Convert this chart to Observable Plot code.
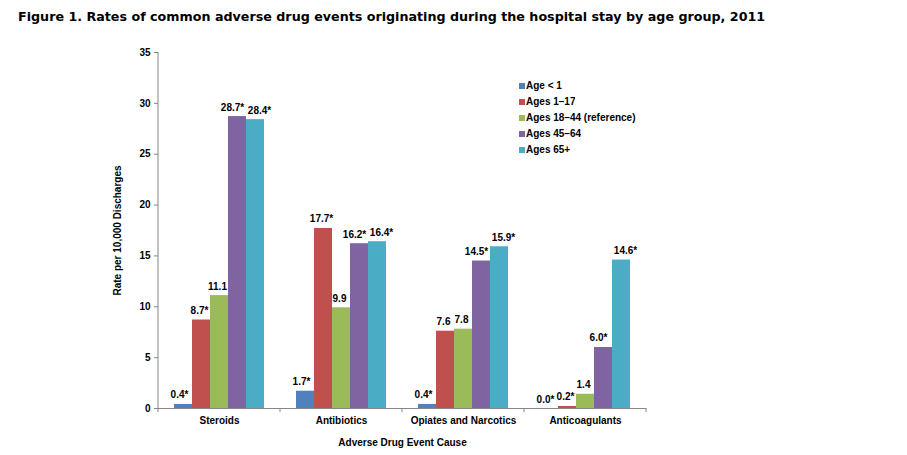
<!DOCTYPE html>
<html><head><meta charset="utf-8">
<script src="https://cdn.jsdelivr.net/npm/d3@7"></script>
<script src="https://cdn.jsdelivr.net/npm/@observablehq/plot@0.6"></script>
<style>
body{margin:0;background:#fff;}
#wrap{position:relative;width:907px;height:455px;overflow:hidden;background:#fff}
#title{position:absolute;left:18px;top:9px;font:bold 12.7px "DejaVu Sans",Verdana,sans-serif;line-height:15px;color:#000;white-space:nowrap}
#chart{position:absolute;left:0;top:32px}
#legend{position:absolute;left:519px;top:78px}
#legend .lg-swatches{font:bold 10px "Liberation Sans",Arial,sans-serif !important;color:#000 !important;margin:0 !important;}
#legend .lg-swatch{height:16px !important;padding:0 !important;margin:0 !important;line-height:16px !important}
#legend .lg-swatch svg{margin-right:1px !important}
</style></head><body>
<div id="wrap">
<div id="title">Figure 1. Rates of common adverse drug events originating during the hospital stay by age group, 2011</div>
<div id="chart"></div>
<div id="legend"></div>
</div>
<script>
// ---- data ----
const causes = ["Steroids", "Antibiotics", "Opiates and Narcotics", "Anticoagulants"];
const ageGroups = ["Age < 1", "Ages 1–17", "Ages 18–44 (reference)", "Ages 45–64", "Ages 65+"];
const ageLt1   = [0.4, 1.7, 0.4, 0.0];
const age1_17  = [8.7, 17.7, 7.6, 0.2];
const age18_44 = [11.1, 9.9, 7.8, 1.4];
const age45_64 = [28.7, 16.2, 14.5, 6.0];
const age65p   = [28.4, 16.4, 15.9, 14.6];
const labelsLt1   = ["0.4*", "1.7*", "0.4*", "0.0*"];
const labels1_17  = ["8.7*", "17.7*", "7.6", "0.2*"];
const labels18_44 = ["11.1", "9.9", "7.8", "1.4"];
const labels45_64 = ["28.7*", "16.2*", "14.5*", "6.0*"];
const labels65p   = ["28.4*", "16.4*", "15.9*", "14.6*"];
const yTicks = [0, 5, 10, 15, 20, 25, 30, 35];
const colors = ["#4F81BD", "#C0504D", "#9BBB59", "#8064A2", "#4BACC6"];
const yLabel = "Rate per 10,000 Discharges";
const xLabel = "Adverse Drug Event Cause";

const seriesValues = [ageLt1, age1_17, age18_44, age45_64, age65p];
const seriesLabels = [labelsLt1, labels1_17, labels18_44, labels45_64, labels65p];
const data = [];
causes.forEach((c, i) => ageGroups.forEach((a, j) => data.push({cause: c, age: a, value: seriesValues[j][i], label: seriesLabels[j][i]})));

const axisColor = "#868686";
const font = "'Liberation Sans', Arial, sans-serif";
// label nudges per series (style only), like the spreadsheet's label placement
const labelDx = [-4, -2, -2, -5, 4];

const plot = Plot.plot({
  width: 907, height: 423,
  marginTop: 20, marginBottom: 47, marginLeft: 156, marginRight: 260,
  style: {fontFamily: font, fontSize: "10px", fontWeight: "bold", color: "#000", background: "#fff", overflow: "visible"},
  fx: {domain: causes, padding: 0},
  x: {domain: ageGroups, paddingInner: 0, paddingOuter: 0.74, axis: null},
  y: {domain: [0, 35]},
  color: {domain: ageGroups, range: colors},
  marks: [
    Plot.axisY(yTicks, {tickSize: 4, tickPadding: 4, stroke: axisColor, fill: "#000", label: yLabel, labelAnchor: "center", labelOffset: 45, labelArrow: "none"}),
    Plot.axisFx({anchor: "bottom", tickSize: 0, tickPadding: 8, fill: "#000", label: xLabel, labelAnchor: "center", labelOffset: 37, labelArrow: "none"}),
    Plot.barY(data, {fx: "cause", x: "age", y: "value", fill: "age"}),
    ...ageGroups.map((a, j) => Plot.text(data.filter(d => d.age === a), {fx: "cause", x: "age", y: "value", text: "label", dy: -6, dx: labelDx[j], lineAnchor: "bottom", fill: "#000", fontSize: 10})),
    Plot.ruleY([0], {stroke: axisColor})
  ]
});
document.getElementById("chart").appendChild(plot);

// y-axis line and category boundary ticks, positioned through Plot's scales
const fxS = plot.scale("fx"), yS = plot.scale("y");
const svg = d3.select(plot);
const x0 = fxS.apply(causes[0]);
svg.append("line").attr("x1", x0).attr("x2", x0).attr("y1", yS.apply(0)).attr("y2", yS.apply(35)).attr("stroke", axisColor);
const bounds = causes.map(c => fxS.apply(c)).concat([fxS.apply(causes[causes.length - 1]) + fxS.bandwidth]);
bounds.forEach(b => svg.append("line").attr("x1", b).attr("x2", b).attr("y1", yS.apply(0)).attr("y2", yS.apply(0) + 4).attr("stroke", axisColor));

// legend
const leg = Plot.legend({color: {domain: ageGroups, range: colors}, columns: 1, swatchSize: 6, className: "lg"});
document.getElementById("legend").appendChild(leg);
</script>
</body></html>
